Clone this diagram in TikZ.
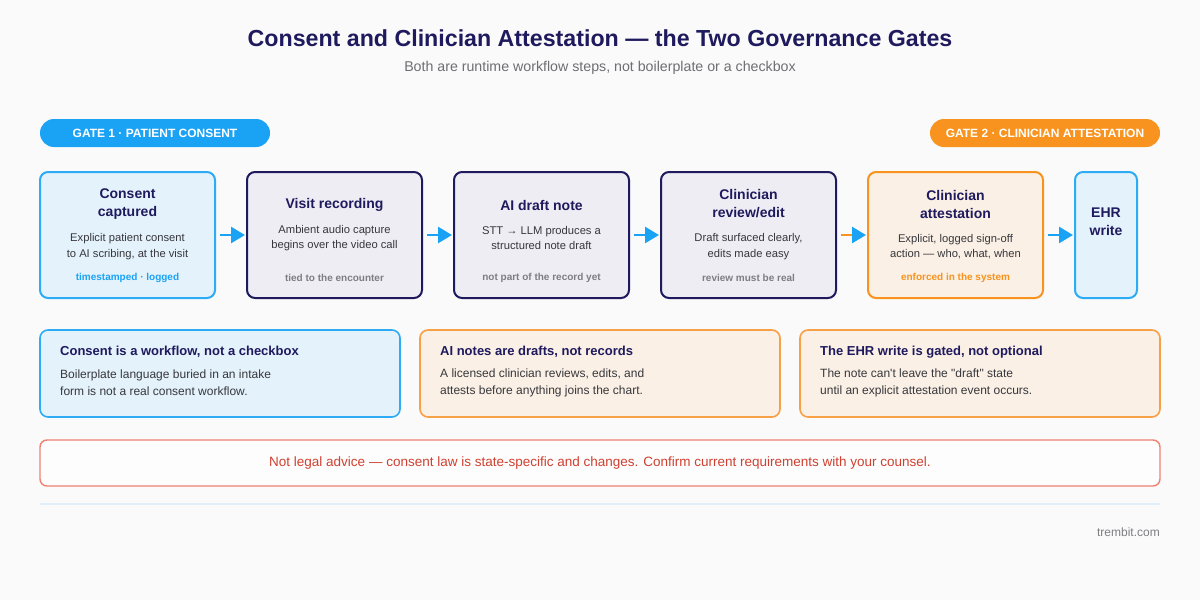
\documentclass[tikz,border=0pt]{standalone}
\usepackage{fontspec}
\setmainfont{Liberation Sans}[Ligatures=TeXOff]
\usetikzlibrary{arrows.meta,calc}
\definecolor{bg}{RGB}{250,250,250}
\definecolor{navy}{RGB}{31,26,94}
\definecolor{blueA}{RGB}{26,163,245}
\definecolor{blueB}{RGB}{45,172,245}
\definecolor{orangeA}{RGB}{247,147,30}
\definecolor{orangeB}{RGB}{247,160,70}
\definecolor{fillblue}{RGB}{228,242,251}
\definecolor{fillgray}{RGB}{237,237,243}
\definecolor{fillorange}{RGB}{250,240,229}
\definecolor{txt}{RGB}{55,55,60}
\definecolor{subgray}{RGB}{110,110,115}
\definecolor{footgray}{RGB}{125,125,130}
\definecolor{redA}{RGB}{208,64,48}
\definecolor{redB}{RGB}{240,128,112}
\definecolor{rule}{RGB}{226,238,248}
\begin{document}
\begin{tikzpicture}[x=1pt,y=-1pt,
  stepbox/.style={rounded corners=8pt, line width=2pt, minimum width=175pt, minimum height=126pt, inner sep=0pt},
  pill/.style={rounded corners=14pt, fill=#1, minimum width=230pt, minimum height=28pt, inner sep=0pt,
    text=white, font=\bfseries\fontsize{12}{14}\selectfont},
  ttl/.style={text=navy, align=center, font=\bfseries\fontsize{14}{18}\selectfont, inner sep=0pt},
  desc/.style={text=txt, align=center, font=\fontsize{11.2}{15.5}\selectfont, inner sep=0pt},
  foot/.style={align=center, font=\bfseries\fontsize{10}{11}\selectfont, inner sep=0pt},
  card/.style={rounded corners=8pt, line width=1.6pt, minimum width=360pt, minimum height=87pt, inner sep=0pt},
  cardttl/.style={text=navy, anchor=west, font=\bfseries\fontsize{13}{15}\selectfont, inner sep=0pt},
  cardtxt/.style={text=txt, anchor=west, align=left, font=\fontsize{12}{17}\selectfont, inner sep=0pt},
  arr/.style={line width=2.6pt, draw=blueA, shorten <=4pt, shorten >=1pt,
    -{Triangle[length=14pt,width=16pt,color=blueA,fill=blueA]}},
]
\useasboundingbox[fill=bg] (0,0) rectangle (1200,600);

% title
\node[text=navy, font=\bfseries\fontsize{23.2}{26}\selectfont] (title) at (600,38) {Consent and Clinician Attestation — the Two Governance Gates};
\node[text=subgray, font=\fontsize{14.2}{16}\selectfont] (sub) at (600,68) {Both are runtime workflow steps, not boilerplate or a checkbox};

% gates
\node[pill=blueA] (g1) at (155,133) {GATE 1 · PATIENT CONSENT};
\node[pill=orangeA] (g2) at (1045,133) {GATE 2 · CLINICIAN ATTESTATION};

% boxes
\node[stepbox, draw=blueB, fill=fillblue] (b1) at (127.5,235) {};
\node[stepbox, draw=navy, fill=fillgray] (b2) at (334.5,235) {};
\node[stepbox, draw=navy, fill=fillgray] (b3) at (541.5,235) {};
\node[stepbox, draw=navy, fill=fillgray] (b4) at (748.5,235) {};
\node[stepbox, draw=orangeA, fill=fillorange] (b5) at (955.5,235) {};
\node[stepbox, draw=blueB, fill=fillblue, minimum width=62pt] (b6) at (1106,235) {};

\node[ttl] (b1t) at (127.5,204) {Consent\\captured};
\node[desc] (b1d) at (127.5,246.5) {Explicit patient consent\\to AI scribing, at the visit};
\node[foot, text=blueA] (b1f) at (127.5,278) {timestamped · logged};

\node[ttl] (b2t) at (334.5,205) {Visit recording};
\node[desc] (b2d) at (334.5,238) {Ambient audio capture\\begins over the video call};
\node[foot, text=footgray] (b2f) at (334.5,278) {tied to the encounter};

\node[ttl] (b3t) at (541.5,205) {AI draft note};
\node[desc] (b3d) at (541.5,238) {STT → LLM produces a\\structured note draft};
\node[foot, text=footgray] (b3f) at (541.5,278) {not part of the record yet};

\node[ttl] (b4t) at (748.5,204) {Clinician\\review/edit};
\node[desc] (b4d) at (748.5,246.5) {Draft surfaced clearly,\\edits made easy};
\node[foot, text=footgray] (b4f) at (748.5,278) {review must be real};

\node[ttl] (b5t) at (955.5,204) {Clinician\\attestation};
\node[desc] (b5d) at (955.5,246.5) {Explicit, logged sign-off\\action — who, what, when};
\node[foot, text=orangeA] (b5f) at (955.5,278) {enforced in the system};

\node[ttl] (b6t) at (1106,222) {EHR\\write};

% arrows
\draw[arr] (b1) -- (b2);
\draw[arr] (b2) -- (b3);
\draw[arr] (b3) -- (b4);
\draw[arr, draw=orangeA] (b4) -- (b5);
\draw[arr] (b5) -- (b6);

% cards
\node[card, draw=blueB, fill=fillblue] (c1) at (220,373.5) {};
\node[card, draw=orangeB, fill=fillorange] (c2) at (600,373.5) {};
\node[card, draw=orangeB, fill=fillorange] (c3) at (980,373.5) {};

\node[cardttl] (c1t) at (60,352) {Consent is a workflow, not a checkbox};
\node[cardtxt] (c1d) at (60,383) {Boilerplate language buried in an intake\\form is not a real consent workflow.};
\node[cardttl] (c2t) at (440,352) {AI notes are drafts, not records};
\node[cardtxt] (c2d) at (440,383) {A licensed clinician reviews, edits, and\\attests before anything joins the chart.};
\node[cardttl] (c3t) at (820,352) {The EHR write is gated, not optional};
\node[cardtxt] (c3d) at (820,383) {The note can't leave the "draft" state\\until an explicit attestation event occurs.};

% disclaimer
\node[rounded corners=7pt, line width=1.4pt, draw=redB, fill=white!60!bg, minimum width=1120pt, minimum height=46pt, inner sep=0pt] (disc) at (600,463) {};
\node[text=redA, font=\fontsize{13.5}{15}\selectfont] (disct) at (disc.center) {Not legal advice — consent law is state-specific and changes. Confirm current requirements with your counsel.};

% rule and footer
\coordinate (r1) at (40,504);
\coordinate (r2) at (1160,504);
\draw[rule, line width=2pt] (r1) -- (r2);
\node[text=footgray, anchor=east, font=\fontsize{12}{14}\selectfont, inner sep=0pt] (site) at (1160,532) {trembit.com};
\end{tikzpicture}
\end{document}
